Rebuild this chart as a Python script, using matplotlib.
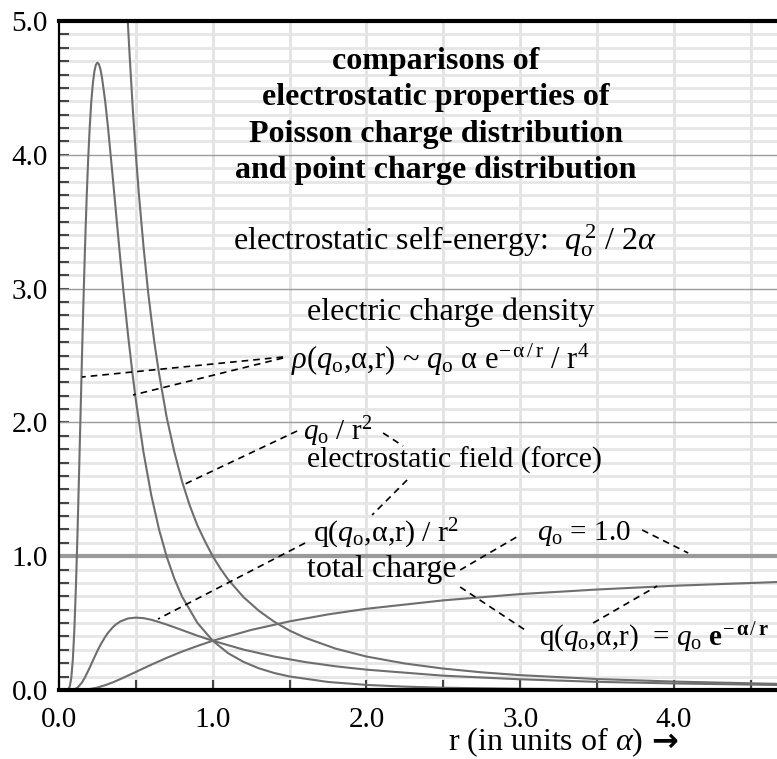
import matplotlib
matplotlib.use("Agg")
import matplotlib.pyplot as plt
import numpy as np

plt.rcParams['font.family'] = ['Liberation Serif', 'DejaVu Serif']
plt.rcParams['mathtext.fontset'] = 'custom'
plt.rcParams['mathtext.rm'] = 'Liberation Serif'
plt.rcParams['mathtext.it'] = 'Liberation Serif:italic'
plt.rcParams['mathtext.bf'] = 'Liberation Serif:bold'

# ---- data ----
r_density = [0.02, 0.04, 0.06, 0.07, 0.08, 0.09, 0.10, 0.11, 0.12, 0.13, 0.14, 0.15, 0.16, 0.17,
             0.18, 0.19, 0.20, 0.21, 0.22, 0.23, 0.24, 0.25, 0.26, 0.27, 0.28, 0.30, 0.32,
             0.35, 0.38, 0.40, 0.42, 0.45, 0.48, 0.50, 0.55, 0.60, 0.65, 0.70, 0.75,
             0.80, 0.90, 1.00, 1.10, 1.20, 1.30, 1.40, 1.50, 1.75, 2.00, 2.25, 2.50, 3.00,
             3.50, 4.00, 4.70]
density = [0.000, 0.000, 0.005, 0.026, 0.091, 0.228, 0.454, 0.770, 1.158, 1.597, 2.056, 2.514, 2.945, 3.340,
           3.683, 3.975, 4.211, 4.397, 4.531, 4.622, 4.673, 4.689, 4.676, 4.637, 4.574, 4.404, 4.190,
           3.827, 3.451, 3.206, 2.971, 2.643, 2.346, 2.165, 1.774, 1.457, 1.203, 0.998, 0.833,
           0.699, 0.502, 0.368, 0.275, 0.210, 0.162, 0.127, 0.101, 0.060, 0.038, 0.025, 0.017, 0.009,
           0.005, 0.003, 0.002]

r_point = [0.44, 0.45, 0.46, 0.48, 0.50, 0.52, 0.55, 0.58, 0.60, 0.62, 0.65, 0.70, 0.75, 0.80,
           0.85, 0.90, 0.95, 1.00, 1.05, 1.10, 1.20, 1.30, 1.40, 1.50, 1.60, 1.80,
           2.00, 2.25, 2.50, 2.75, 3.00, 3.50, 4.00, 4.70]
point_field = [5.17, 4.94, 4.73, 4.34, 4.00, 3.70, 3.31, 2.97, 2.78, 2.60, 2.37, 2.04, 1.78, 1.56,
               1.38, 1.23, 1.11, 1.00, 0.907, 0.826, 0.694, 0.592, 0.510, 0.444, 0.391, 0.309,
               0.250, 0.198, 0.160, 0.132, 0.111, 0.082, 0.063, 0.045]

r_field = [0.02, 0.05, 0.10, 0.12, 0.15, 0.17, 0.20, 0.22, 0.25, 0.27, 0.30, 0.32, 0.35, 0.37,
           0.40, 0.45, 0.50, 0.55, 0.60, 0.65, 0.70, 0.75, 0.80, 0.90, 1.00, 1.20, 1.40,
           1.60, 1.80, 2.00, 2.50, 3.00, 3.50, 4.00, 4.70]
field = [0.000, 0.000, 0.005, 0.017, 0.057, 0.097, 0.168, 0.219, 0.293, 0.338, 0.396, 0.429, 0.469, 0.490,
         0.513, 0.535, 0.541, 0.537, 0.525, 0.508, 0.489, 0.469, 0.448, 0.406, 0.368, 0.302, 0.250,
         0.209, 0.177, 0.152, 0.107, 0.080, 0.061, 0.049, 0.037]

r_charge = [0.02, 0.05, 0.10, 0.15, 0.20, 0.25, 0.30, 0.35, 0.40, 0.50, 0.60, 0.70, 0.80, 0.90,
            1.00, 1.25, 1.50, 1.75, 2.00, 2.50, 3.00, 3.50, 4.00, 4.70]
charge = [0.000, 0.000, 0.000, 0.001, 0.007, 0.018, 0.036, 0.057, 0.082, 0.135, 0.189, 0.240, 0.287, 0.329,
          0.368, 0.449, 0.513, 0.565, 0.607, 0.670, 0.717, 0.751, 0.779, 0.808]

r_point_charge = [0.0, 4.70]
point_charge = [1.0, 1.0]

x_ticks = [0, 1, 2, 3, 4]
x_ticklabels = ['0.0', '1.0', '2.0', '3.0', '4.0']
y_ticks = [0, 1, 2, 3, 4, 5]
y_ticklabels = ['0.0', '1.0', '2.0', '3.0', '4.0', '5.0']

# ---- figure ----
fig = plt.figure(figsize=(7.77, 7.59), dpi=100)
ax = fig.add_axes([59/777, 69/759, 1 - 59/777, (690 - 21)/759])
ax.set_xlim(0, 4.67)
ax.set_ylim(0, 5.0)

curve_c = '#6e6e6e'
ax.plot(r_point_charge, point_charge, color='#9a9a9a', lw=3.0, solid_capstyle='butt', zorder=3)
ax.plot(r_density, density, color=curve_c, lw=1.5, zorder=4)
ax.plot(r_point, point_field, color=curve_c, lw=1.5, zorder=4)
ax.plot(r_field, field, color=curve_c, lw=1.5, zorder=4)
ax.plot(r_charge, charge, color=curve_c, lw=1.5, zorder=4)

# grid
ax.set_xticks(x_ticks)
ax.set_xticklabels(x_ticklabels)
ax.set_xticks(np.arange(0.5, 4.67, 1.0), minor=True)
ax.set_yticks(y_ticks)
ax.set_yticklabels(y_ticklabels)
ax.set_yticks([v / 10 for v in range(0, 51) if v % 10 != 0], minor=True)

for v in np.arange(0.5, 4.67, 0.5):
    ax.axvline(v, color='#e2e2e2', lw=2.0, zorder=1)
for v in [t / 10 for t in range(1, 50) if t % 10 != 0]:
    ax.axhline(v, color='#e6e6e6', lw=2.0, zorder=1)
for v in [1, 2, 3, 4]:
    ax.axhline(v, color='#9c9c9c', lw=1.0, zorder=2)

ax.tick_params(axis='both', which='both', direction='in', color='#444444', width=1.5)
ax.tick_params(axis='y', which='both', length=7, labelsize=21, pad=8)
ax.tick_params(axis='x', which='both', length=7, labelsize=21, pad=12)

ax.spines['right'].set_visible(False)
ax.spines['top'].set_linewidth(3.0)
ax.spines['bottom'].set_linewidth(3.0)
ax.spines['left'].set_linewidth(1.6)
for s in ['top', 'bottom', 'left']:
    ax.spines[s].set_zorder(6)

# ---- text ----
q0 = r'$\mathit{q}_{\mathrm{o}}$'
ax.text(2.45, 4.29, 'comparisons of\nelectrostatic properties of\nPoisson charge distribution\nand point charge distribution',
        ha='center', va='center', fontsize=23, fontweight='bold', linespacing=1.34, zorder=7)
ax.text(2.51, 3.36, 'electrostatic self-energy:  ' + r'$\mathit{q}_{\mathrm{o}}^{\,2}$ / 2$\mathit{\alpha}$',
        ha='center', va='center', fontsize=23, zorder=7)
ax.text(1.614, 2.825, 'electric charge density', ha='left', va='center', fontsize=23, zorder=7)
ax.text(1.51, 2.466, r'$\mathit{\rho}$(' + q0 + r',$\mathrm{\alpha}$,r) ~ ' + q0 + r' $\mathrm{\alpha}$ e$^{-\,\mathrm{\alpha}\,/\,\mathrm{r}}$ / r$^4$',
        ha='left', va='center', fontsize=22, zorder=7)
ax.text(1.59, 1.93, q0 + ' / r$^2$', ha='left', va='center', fontsize=21, zorder=7)
ax.text(1.614, 1.72, 'electrostatic field (force)', ha='left', va='center', fontsize=21.5, zorder=7)
ax.text(1.65, 1.17, 'q(' + q0 + r',$\mathrm{\alpha}$,r) / r$^2$', ha='left', va='center', fontsize=21.5, zorder=7)
ax.text(1.61, 0.90, 'total charge', ha='left', va='center', fontsize=23, zorder=7)
ax.text(3.11, 1.17, q0 + ' = 1.0', ha='left', va='center', fontsize=21, zorder=7)
ax.text(3.12, 0.39, 'q(' + q0 + r',$\mathrm{\alpha}$,r)  = ' + q0 + r' $\mathbf{e}^{-\,\mathbf{\alpha}\,/\,\mathbf{r}}$',
        ha='left', va='center', fontsize=21, zorder=7)
ax.text(2.53, -0.39, r'r (in units of $\mathit{\alpha}$) ', ha='left', va='center',
        fontsize=23, clip_on=False)
ax.text(3.85, -0.39, '\u2192', ha='left', va='center', fontsize=23, fontweight='bold',
        family=['DejaVu Sans'], clip_on=False)

# leader lines (pixel positions converted to data)
def px(xp, yp):
    return ((xp - 59) / 153.7, (690 - yp) / 133.8)

leaders = [((283, 357), (82, 377)), ((283, 358), (133, 395)), ((297, 431), (185, 484)),
           ((383, 433), (403, 446)), ((407, 480), (372, 515)), ((305, 543), (158, 619)),
           ((460, 570), (520, 535)), ((460, 587), (525, 630)), ((642, 530), (688, 553)),
           ((593, 623), (657, 586))]
for a, b in leaders:
    (x1, y1), (x2, y2) = px(*a), px(*b)
    ax.plot([x1, x2], [y1, y2], color='black', lw=1.2, ls=(0, (4, 3)), zorder=5)

fig.savefig('out.png', dpi=100, facecolor='white')
